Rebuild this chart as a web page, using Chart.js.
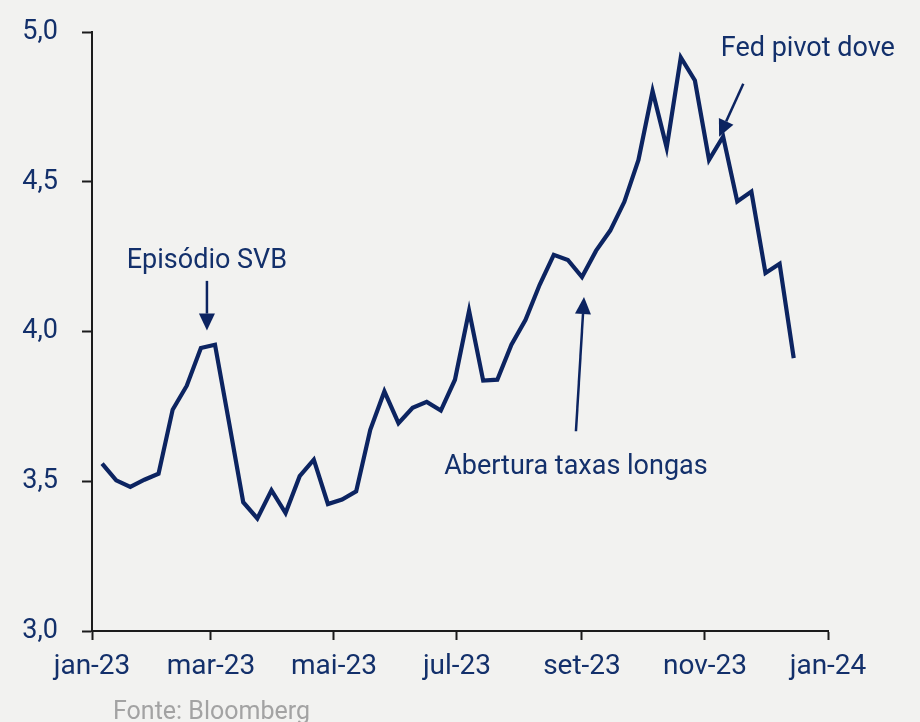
<!DOCTYPE html>
<html>
<head>
<meta charset="utf-8">
<script src="https://cdn.jsdelivr.net/npm/chart.js@4.4.1/dist/chart.umd.min.js"></script>
<style>
  html, body { margin: 0; padding: 0; background: #f2f2f0; }
  #wrap { width: 920px; height: 722px; }
</style>
</head>
<body>
<div id="wrap"><canvas id="c" width="920" height="722"></canvas></div>
<script>
// ---- Data (weekly closes) ----
const weekDates = [
  '2023-01-06','2023-01-13','2023-01-20','2023-01-27','2023-02-03','2023-02-10','2023-02-17','2023-02-24',
  '2023-03-03','2023-03-10','2023-03-17','2023-03-24','2023-03-31','2023-04-07','2023-04-14','2023-04-21',
  '2023-04-28','2023-05-05','2023-05-12','2023-05-19','2023-05-26','2023-06-02','2023-06-09','2023-06-16',
  '2023-06-23','2023-06-30','2023-07-07','2023-07-14','2023-07-21','2023-07-28','2023-08-04','2023-08-11',
  '2023-08-18','2023-08-25','2023-09-01','2023-09-08','2023-09-15','2023-09-22','2023-09-29','2023-10-06',
  '2023-10-13','2023-10-20','2023-10-27','2023-11-03','2023-11-10','2023-11-17','2023-11-24','2023-12-01',
  '2023-12-08','2023-12-15'
];
const yieldValues = [
  3.559, 3.503, 3.481, 3.505, 3.525, 3.739, 3.819, 3.945, 3.956, 3.695,
  3.430, 3.376, 3.470, 3.394, 3.517, 3.572, 3.424, 3.439, 3.466, 3.672,
  3.800, 3.694, 3.745, 3.765, 3.736, 3.839, 4.069, 3.836, 3.839, 3.956,
  4.039, 4.156, 4.256, 4.239, 4.182, 4.270, 4.337, 4.433, 4.573, 4.803,
  4.614, 4.915, 4.838, 4.573, 4.651, 4.434, 4.467, 4.195, 4.226, 3.911
];
const xTickDates  = ['2023-01-01','2023-03-01','2023-05-01','2023-07-01','2023-09-01','2023-11-01','2024-01-01'];
const xTickLabels = ['jan-23','mar-23','mai-23','jul-23','set-23','nov-23','jan-24'];
const yTickValues = [3.0, 3.5, 4.0, 4.5, 5.0];
const yTickLabels = ['3,0','3,5','4,0','4,5','5,0'];

// Annotations: text anchor and arrow (start -> tip) in data coordinates (date, value)
const annoTexts = ['Episódio SVB', 'Abertura taxas longas', 'Fed pivot dove'];
const annoTextAt = [['2023-02-27', 4.213], ['2023-08-29', 3.524], ['2023-12-22', 4.921]];
const annoArrowFrom = [['2023-02-27', 4.169], ['2023-08-29', 3.667], ['2023-11-20', 4.827]];
const annoArrowTo   = [['2023-02-27', 4.003], ['2023-09-02', 4.115], ['2023-11-08', 4.650]];
const sourceText = 'Fonte: Bloomberg';

// ---- helpers ----
const BASE = Date.UTC(2023, 0, 1);
function dayOf(s) {
  const [y, m, d] = s.split('-').map(Number);
  return (Date.UTC(y, m - 1, d) - BASE) / 86400000;
}
const points = weekDates.map((d, i) => ({ x: dayOf(d), y: yieldValues[i] }));
const xTickDays = xTickDates.map(dayOf);

const NAVY = '#0c2461';
const TEXT = '#13306b';
const AXIS = '#1c1c1c';
const FONT = 'Roboto';

const bgPlugin = {
  id: 'bg',
  beforeDraw(chart) {
    const ctx = chart.ctx;
    ctx.save();
    ctx.fillStyle = '#f2f2f0';
    ctx.fillRect(0, 0, chart.width, chart.height);
    ctx.restore();
  }
};

const annoPlugin = {
  id: 'anno',
  afterDatasetsDraw(chart) {
    const ctx = chart.ctx;
    const xs = chart.scales.x, ys = chart.scales.y;
    ctx.save();
    ctx.fillStyle = TEXT;
    ctx.font = '27px ' + FONT;
    ctx.textAlign = 'center';
    ctx.textBaseline = 'alphabetic';
    annoTexts.forEach((t, i) => {
      ctx.fillText(t, xs.getPixelForValue(dayOf(annoTextAt[i][0])), ys.getPixelForValue(annoTextAt[i][1]));
      const x1 = xs.getPixelForValue(dayOf(annoArrowFrom[i][0])), y1 = ys.getPixelForValue(annoArrowFrom[i][1]);
      const x2 = xs.getPixelForValue(dayOf(annoArrowTo[i][0])), y2 = ys.getPixelForValue(annoArrowTo[i][1]);
      const ang = Math.atan2(y2 - y1, x2 - x1);
      const L = 17, W = 8;
      const bx = x2 - L * Math.cos(ang), by = y2 - L * Math.sin(ang);
      ctx.strokeStyle = NAVY;
      ctx.lineWidth = 2.5;
      ctx.beginPath();
      ctx.moveTo(x1, y1);
      ctx.lineTo(bx, by);
      ctx.stroke();
      ctx.fillStyle = NAVY;
      ctx.beginPath();
      ctx.moveTo(x2, y2);
      ctx.lineTo(bx + W * Math.sin(ang), by - W * Math.cos(ang));
      ctx.lineTo(bx - W * Math.sin(ang), by + W * Math.cos(ang));
      ctx.closePath();
      ctx.fill();
      ctx.fillStyle = TEXT;
    });
    // source
    ctx.fillStyle = '#a3a3a3';
    ctx.font = '25px ' + FONT;
    ctx.textAlign = 'left';
    ctx.fillText(sourceText, chart.chartArea.left + 21, chart.height - 3);
    ctx.restore();
  }
};

new Chart(document.getElementById('c'), {
  type: 'line',
  data: {
    datasets: [{
      data: points,
      borderColor: NAVY,
      borderWidth: 4.2,
      borderJoinStyle: 'miter',
      pointRadius: 0,
      tension: 0,
      fill: false
    }]
  },
  options: {
    responsive: false,
    animation: false,
    devicePixelRatio: 1,
    layout: { padding: { left: 0, right: 92, top: 32, bottom: 0 } },
    plugins: { legend: { display: false }, tooltip: { enabled: false } },
    scales: {
      x: {
        type: 'linear',
        min: xTickDays[0],
        max: xTickDays[xTickDays.length - 1],
        afterBuildTicks(scale) { scale.ticks = xTickDays.map(v => ({ value: v })); },
        afterFit(scale) { scale.height = 91; },
        ticks: {
          autoSkip: false, maxRotation: 0, minRotation: 0,
          color: TEXT, font: { family: FONT, size: 28 }, padding: 10,
          callback(v) { const i = xTickDays.indexOf(v); return i >= 0 ? xTickLabels[i] : ''; }
        },
        grid: { drawOnChartArea: false, drawTicks: true, tickLength: 9, tickColor: AXIS, tickWidth: 2 },
        border: { display: true, color: AXIS, width: 2 }
      },
      y: {
        min: yTickValues[0],
        max: yTickValues[yTickValues.length - 1],
        afterBuildTicks(scale) { scale.ticks = yTickValues.map(v => ({ value: v })); },
        afterFit(scale) { scale.width = 92; scale.paddingTop = 0; scale.paddingBottom = 0; },
        ticks: {
          color: TEXT, font: { family: FONT, size: 27 }, padding: 24,
          callback(v) { const i = yTickValues.indexOf(v); return i >= 0 ? yTickLabels[i] : ''; }
        },
        grid: { drawOnChartArea: false, drawTicks: true, tickLength: 10, tickColor: AXIS, tickWidth: 2 },
        border: { display: true, color: AXIS, width: 2 }
      }
    }
  },
  plugins: [bgPlugin, annoPlugin]
});
</script>
</body>
</html>
